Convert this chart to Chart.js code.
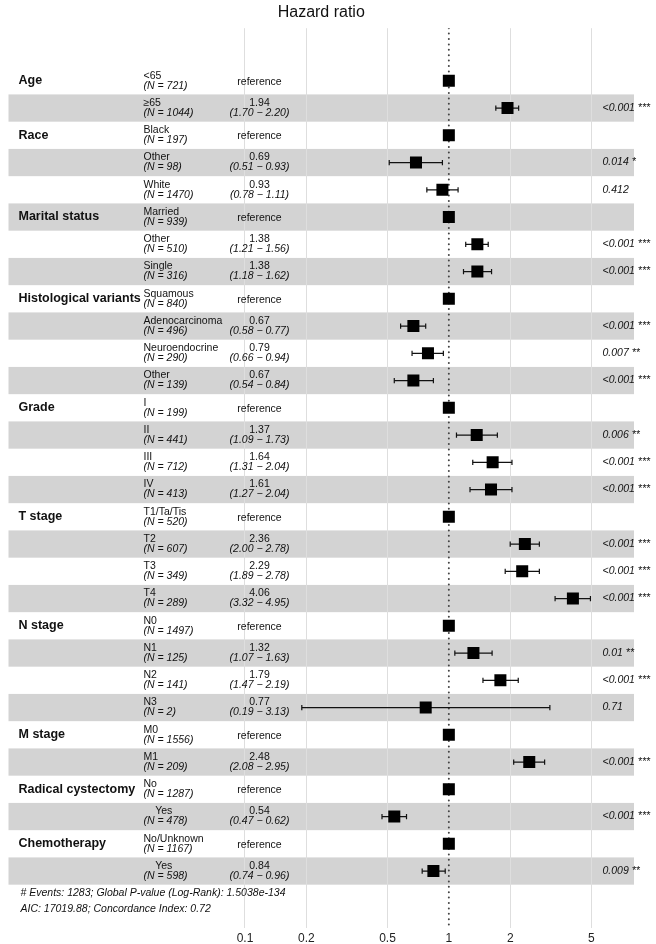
<!DOCTYPE html>
<html>
<head>
<meta charset="utf-8">
<script src="https://cdn.jsdelivr.net/npm/chart.js@4.4.0/dist/chart.umd.min.js"></script>
<style>
html, body { margin: 0; padding: 0; background: #fff; }
</style>
</head>
<body>
<canvas id="forest" width="656" height="944"></canvas>
<script>
// model terms and their rows
var groups = ["Age", "Race", "Marital status", "Histological variants", "Grade",
              "T stage", "N stage", "M stage", "Radical cystectomy", "Chemotherapy"];
var groupSizes = [2, 3, 3, 4, 4, 4, 4, 2, 2, 2];

var levels = ["<65", "\u226565",
              "Black", "Other", "White",
              "Married", "Other", "Single",
              "Squamous", "Adenocarcinoma", "Neuroendocrine", "Other",
              "I", "II", "III", "IV",
              "T1/Ta/Tis", "T2", "T3", "T4",
              "N0", "N1", "N2", "N3",
              "M0", "M1",
              "No", "    Yes",
              "No/Unknown", "    Yes"];
var counts = [721, 1044,
              197, 98, 1470,
              939, 510, 316,
              840, 496, 290, 139,
              199, 441, 712, 413,
              520, 607, 349, 289,
              1497, 125, 141, 2,
              1556, 209,
              1287, 478,
              1167, 598];
// null in lower/upper = reference level
var hr    = [1, 1.94,  1, 0.69, 0.93,  1, 1.38, 1.38,  1, 0.67, 0.79, 0.67,  1, 1.37, 1.64, 1.61,
             1, 2.36, 2.29, 4.06,  1, 1.32, 1.79, 0.77,  1, 2.48,  1, 0.54,  1, 0.84];
var lower = [null, 1.70,  null, 0.51, 0.78,  null, 1.21, 1.18,  null, 0.58, 0.66, 0.54,  null, 1.09, 1.31, 1.27,
             null, 2.00, 1.89, 3.32,  null, 1.07, 1.47, 0.19,  null, 2.08,  null, 0.47,  null, 0.74];
var upper = [null, 2.20,  null, 0.93, 1.11,  null, 1.56, 1.62,  null, 0.77, 0.94, 0.84,  null, 1.73, 2.04, 2.04,
             null, 2.78, 2.78, 4.95,  null, 1.63, 2.19, 3.13,  null, 2.95,  null, 0.62,  null, 0.96];
var pvals = ["", "<0.001 ***",  "", "0.014 *", "0.412",  "", "<0.001 ***", "<0.001 ***",
             "", "<0.001 ***", "0.007 **", "<0.001 ***",  "", "0.006 **", "<0.001 ***", "<0.001 ***",
             "", "<0.001 ***", "<0.001 ***", "<0.001 ***",  "", "0.01 **", "<0.001 ***", "0.71",
             "", "<0.001 ***",  "", "<0.001 ***",  "", "0.009 **"];

var tickValues = [0.1, 0.2, 0.5, 1, 2, 5];
var footer = ["# Events: 1283; Global P-value (Log-Rank): 1.5038e-134",
              "AIC: 17019.88; Concordance Index: 0.72"];

var FONT = '"Liberation Sans", Arial, Helvetica, sans-serif';
Chart.defaults.font.family = FONT;

var yMin = -1.93, yMax = 31.09;

// squares for the estimates
var pointData = hr.map(function (v, i) { return { x: v, y: i }; });

// one little segment per confidence interval
var ciSets = [];
hr.forEach(function (v, i) {
    if (lower[i] === null) return;
    ciSets.push({
        type: 'scatter',
        data: [{ x: lower[i], y: i }, { x: upper[i], y: i }],
        showLine: true,
        borderColor: '#111',
        borderWidth: 1.2,
        pointStyle: 'line',
        pointRotation: 90,
        pointRadius: 2.6,
        pointBorderWidth: 1.2,
        pointBorderColor: '#111',
        order: 1
    });
});

var forestText = {
    id: 'forestText',
    beforeDraw: function (chart) {
        // alternating gray bands
        var ctx = chart.ctx, a = chart.chartArea, y = chart.scales.y;
        ctx.save();
        ctx.fillStyle = '#d3d3d3';
        for (var i = 1; i < levels.length; i += 2) {
            var t = y.getPixelForValue(i - 0.5), b = y.getPixelForValue(i + 0.5);
            ctx.fillRect(a.left, t, a.right - a.left, b - t);
        }
        ctx.restore();
    },
    afterDraw: function (chart) {
        var ctx = chart.ctx, a = chart.chartArea, y = chart.scales.y;
        var colVar = a.left + 10, colLevel = a.left + 135, colEst = a.left + 251, colP = a.left + 594;
        ctx.save();
        ctx.textBaseline = 'middle';
        ctx.fillStyle = '#111';

        // term names
        ctx.font = 'bold 12.5px ' + FONT;
        ctx.textAlign = 'left';
        var row = 0;
        groups.forEach(function (g, k) {
            ctx.fillText(g, colVar, y.getPixelForValue(row));
            row += groupSizes[k];
        });

        for (var i = 0; i < levels.length; i++) {
            var py = y.getPixelForValue(i);
            ctx.textAlign = 'left';
            ctx.font = '10.5px ' + FONT;
            ctx.fillText(levels[i], colLevel, py - 5);
            ctx.font = 'italic 10.5px ' + FONT;
            ctx.fillText('(N = ' + counts[i] + ')', colLevel, py + 5);

            ctx.textAlign = 'center';
            if (lower[i] === null) {
                ctx.font = '10.5px ' + FONT;
                ctx.fillText('reference', colEst, py + 1);
            } else {
                ctx.font = '10.5px ' + FONT;
                ctx.fillText(hr[i].toFixed(2), colEst, py - 5);
                ctx.font = 'italic 10.5px ' + FONT;
                ctx.fillText('(' + lower[i].toFixed(2) + ' \u2212 ' + upper[i].toFixed(2) + ')', colEst, py + 5);
            }

            ctx.textAlign = 'left';
            ctx.font = 'italic 10.5px ' + FONT;
            ctx.fillText(pvals[i], colP, py);
        }

        // footer notes
        ctx.font = 'italic 10.5px ' + FONT;
        ctx.fillText(footer[0], a.left + 12, y.getPixelForValue(29.8));
        ctx.fillText(footer[1], a.left + 12, y.getPixelForValue(30.4));
        ctx.restore();
    }
};

new Chart(document.getElementById('forest'), {
    type: 'scatter',
    data: {
        datasets: [{
            data: pointData,
            pointStyle: 'rect',
            pointRadius: 8.5,
            pointBorderWidth: 0,
            backgroundColor: '#000',
            borderColor: '#000',
            order: 0
        }].concat(ciSets).concat([{
            // dotted line at HR = 1
            data: [{ x: 1, y: yMin }, { x: 1, y: yMax }],
            showLine: true,
            borderColor: '#444',
            borderWidth: 2,
            borderDash: [0, 5.4],
            borderCapStyle: 'round',
            pointRadius: 0,
            order: 2
        }])
    },
    options: {
        responsive: false,
        animation: false,
        events: [],
        layout: { padding: { left: 5, right: 22, top: 0, bottom: 0 } },
        plugins: {
            legend: { display: false },
            tooltip: { enabled: false },
            title: {
                display: true,
                text: 'Hazard ratio',
                fullSize: false,
                color: '#111',
                font: { size: 16, weight: 'normal' },
                padding: { top: 3, bottom: 6 }
            }
        },
        scales: {
            x: {
                type: 'logarithmic',
                min: 0.00692,
                max: 8.095,
                afterBuildTicks: function (scale) {
                    scale.ticks = tickValues.map(function (v) { return { value: v }; });
                },
                afterFit: function (scale) { scale.height = 16; },
                border: { display: false },
                grid: {
                    drawTicks: false,
                    lineWidth: 1,
                    color: function (c) { return c.tick && c.tick.value === 1 ? 'rgba(0,0,0,0)' : '#dedede'; }
                },
                ticks: {
                    autoSkip: false,
                    maxRotation: 0,
                    padding: 3,
                    color: '#222',
                    font: { size: 12 },
                    callback: function (v) { return String(v); }
                }
            },
            y: {
                type: 'linear',
                display: false,
                reverse: true,
                min: yMin,
                max: yMax
            }
        }
    },
    plugins: [forestText]
});
</script>
</body>
</html>
